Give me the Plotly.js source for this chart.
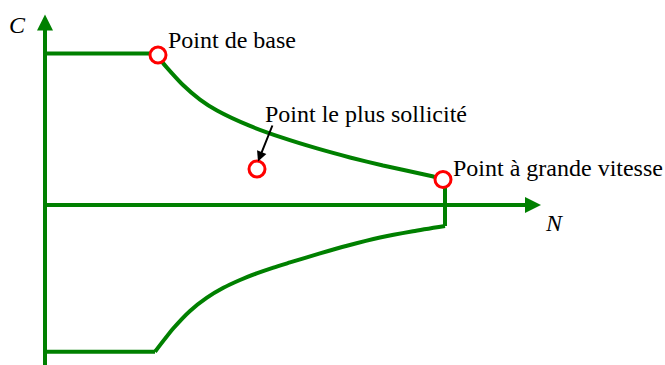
<!DOCTYPE html>
<html>
<head>
<meta charset="utf-8">
<script src="https://cdn.plot.ly/plotly-3.0.1.min.js"></script>
<style>
  html, body { margin: 0; padding: 0; background: #fff; }
  #plot { width: 665px; height: 365px; }
</style>
</head>
<body>
<div id="plot"></div>
<script>
// speed N (x) and torque C (y), arbitrary units
var topFlatN = [0, 28];
var topFlatC = [101, 101];

var upperN = [28.25, 29.5, 34.5, 38.75, 43, 51.25, 59.5, 68, 76.25, 84.5, 96.25, 100];
var upperC = [100, 94.7, 80, 70.3, 63, 52.7, 44.7, 37.7, 31.7, 26.3, 19.5, 17];

var dropN = [100, 100];
var dropC = [17, -14];

var lowerN = [100, 92, 83.75, 75.5, 68.75, 61.25, 57.1, 52.9, 48.75, 44.6, 40.4, 36.25, 32.1, 27.5];
var lowerC = [-14, -17.5, -21.7, -27.2, -32.3, -38.3, -41.7, -45.6, -50, -55.2, -61.9, -70.6, -82.2, -97.8];

var bottomFlatN = [27.5, 0];
var bottomFlatC = [-97.8, -97.8];

var pointNames = ["Point de base", "Point le plus sollicité", "Point à grande vitesse"];
var pointN = [28.25, 53, 99.5];
var pointC = [100, 24, 17];

var green = "#008000";
var serif = "Liberation Serif";

function lineTrace(xs, ys, shape) {
    return {
        x: xs,
        y: ys,
        mode: "lines",
        type: "scatter",
        hoverinfo: "skip",
        line: { color: green, width: 4, shape: shape, smoothing: 0.6 }
    };
}

function init() {
    var traces = [
        lineTrace(topFlatN, topFlatC, "linear"),
        lineTrace(upperN, upperC, "spline"),
        lineTrace(dropN, dropC, "linear"),
        lineTrace(lowerN, lowerC, "spline"),
        lineTrace(bottomFlatN, bottomFlatC, "linear"),
        {
            x: pointN,
            y: pointC,
            text: pointNames,
            mode: "markers",
            type: "scatter",
            hoverinfo: "text",
            marker: {
                symbol: "circle",
                size: 16,
                color: "#ffffff",
                line: { color: "#ff0000", width: 3 }
            }
        }
    ];

    var labels = [
        { text: pointNames[0], x: 30.3, y: 110 },
        { text: pointNames[1], x: 54.6, y: 61 },
        { text: pointNames[2], x: 101.6, y: 25 }
    ].map(function (a) {
        return {
            text: a.text, x: a.x, y: a.y, xref: "x", yref: "y",
            xanchor: "left", yanchor: "middle", showarrow: false,
            font: { family: serif, size: 24, color: "#000" }
        };
    });

    var arrows = [
        // C axis
        { x: 0, y: 127, ax: 0, ay: -110, color: green, w: 4, size: 0.8 },
        // N axis
        { x: 124, y: 0, ax: 0, ay: 0, color: green, w: 4, size: 0.8 },
        // pointer to the most loaded point
        { x: 53.25, y: 29, ax: 57, ay: 54, color: "#000", w: 2, size: 1 }
    ].map(function (a) {
        return {
            x: a.x, y: a.y, ax: a.ax, ay: a.ay,
            xref: "x", yref: "y", axref: "x", ayref: "y",
            text: "", showarrow: true, arrowhead: 2,
            arrowsize: a.size, arrowwidth: a.w, arrowcolor: a.color
        };
    });

    var axisNames = [
        { text: "C", x: -7, y: 120 },
        { text: "N", x: 127.3, y: -12 }
    ].map(function (a) {
        return {
            text: "<i>" + a.text + "</i>", x: a.x, y: a.y, xref: "x", yref: "y",
            showarrow: false,
            font: { family: serif, size: 24, color: "#000" }
        };
    });

    var layout = {
        width: 665,
        height: 365,
        margin: { l: 0, r: 0, t: 0, b: 0 },
        showlegend: false,
        paper_bgcolor: "#ffffff",
        plot_bgcolor: "#ffffff",
        xaxis: { range: [-11.25, 155], visible: false, fixedrange: true },
        yaxis: { range: [-106.67, 136.67], visible: false, fixedrange: true },
        annotations: arrows.concat(labels, axisNames)
    };

    Plotly.newPlot("plot", traces, layout, { displayModeBar: false, staticPlot: true });
}

init();
</script>
</body>
</html>
